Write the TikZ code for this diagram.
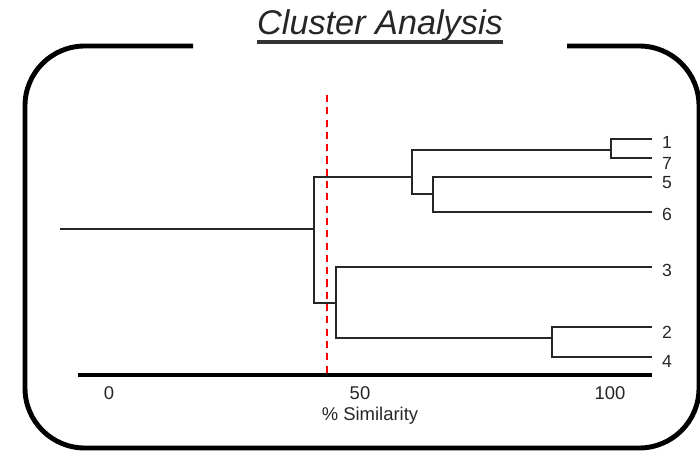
\documentclass[tikz,border=0pt]{standalone}
\usepackage{fontspec}
\setmainfont{Liberation Sans}
\usetikzlibrary{calc}

\begin{document}
\begin{tikzpicture}[x=0.02cm, y=-0.02cm,
		link/.style={line width=1.1pt, black!85},
		leaf/.style={font=\fontsize{10}{12}\selectfont, text=black!85, inner sep=0pt},
		tick/.style={font=\fontsize{10.5}{12}\selectfont, text=black!85, inner sep=0pt}]
		\useasboundingbox (0,0) rectangle (700,452);

		% Frame and title
		\draw[line width=2.8pt, rounded corners=34pt] (193,46) -- (25,46) -- (25,448) -- (699,448) -- (699,46) -- (567,46);
		\node[inner sep=0pt, text=black!85, font=\fontsize{19.5}{22}\selectfont\itshape] (title) at (380,26) {Cluster Analysis};
		\draw[line width=2pt, black!80] ($(title.base west)+(0,7)$) -- ($(title.base east)+(0,7)$);

		% Joins
		\coordinate (r0) at (60,229);
		\coordinate (c0) at (314,229);
		\coordinate (cA) at (412,177);
		\coordinate (cA1) at (611,150);
		\coordinate (cA2) at (433,194);
		\coordinate (cB) at (336,303);
		\coordinate (cB2) at (552,338);

		% Leaves
		\coordinate (l1) at (652,139);
		\coordinate (l7) at (652,158);
		\coordinate (l5) at (652,177);
		\coordinate (l6) at (652,212);
		\coordinate (l3) at (652,267);
		\coordinate (l2) at (652,327);
		\coordinate (l4) at (652,357);
		\node[leaf] (n1) at (667,142) {1};
		\node[leaf] (n7) at (667,163) {7};
		\node[leaf] (n5) at (667,183) {5};
		\node[leaf] (n6) at (667,214) {6};
		\node[leaf] (n3) at (667,270) {3};
		\node[leaf] (n2) at (667,332) {2};
		\node[leaf] (n4) at (667,361) {4};

		% Connections
		\draw[link] (r0) -- (c0);
		\draw[link] (c0) |- (cA);
		\draw[link] (c0) |- (cB);
		\draw[link] (cA) |- (cA1);
		\draw[link] (cA) |- (cA2);
		\draw[link] (cA1) |- (l1);
		\draw[link] (cA1) |- (l7);
		\draw[link] (cA2) |- (l5);
		\draw[link] (cA2) |- (l6);
		\draw[link] (cB) |- (l3);
		\draw[link] (cB) |- (cB2);
		\draw[link] (cB2) |- (l2);
		\draw[link] (cB2) |- (l4);

		% Axis
		\coordinate (ax0) at (78,375);
		\coordinate (ax1) at (652,375);
		\draw[line width=2.8pt] (ax0) -- (ax1);
		\node[tick] (t0) at (109,393) {0};
		\node[tick] (t50) at (360,393) {50};
		\node[tick] (t100) at (610,393) {100};
		\node[tick] (axlabel) at (370,416) {\% Similarity};

		% Cut-off line
		\coordinate (cut0) at (327,95);
		\coordinate (cut1) at (327,374);
		\draw[red, line width=1.2pt, dash pattern=on 4pt off 3pt] (cut0) -- (cut1);
	\end{tikzpicture}
\end{document}
